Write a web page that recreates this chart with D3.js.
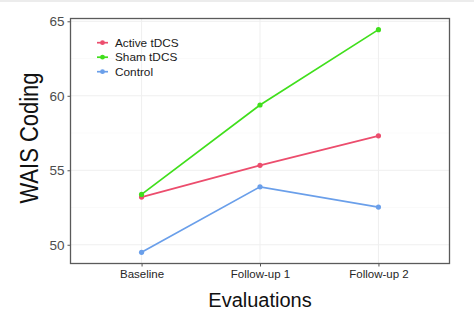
<!DOCTYPE html>
<html><head><meta charset="utf-8">
<script src="https://cdn.jsdelivr.net/npm/d3@7"></script>
<style>html,body{margin:0;padding:0;background:#fff;}svg{display:block;font-family:"Liberation Sans",Arial,sans-serif;}</style>
</head><body>
<svg id="chart" width="474" height="328"></svg>
<script>
const categories = ["Baseline", "Follow-up 1", "Follow-up 2"];
const seriesNames = ["Active tDCS", "Sham tDCS", "Control"];
const activeValues = [53.2, 55.33, 57.31];
const shamValues = [53.38, 59.38, 64.44];
const controlValues = [49.49, 53.89, 52.53];
const seriesColors = ["#ec4d6d", "#40df1c", "#6a9fea"];
const yTicks = [50, 55, 60, 65];
const yMinor = [52.5, 57.5, 62.5];

const seriesValues = [activeValues, shamValues, controlValues];
const svg = d3.select("#chart");
const W = 474, H = 328;
const m = {left: 70.5, right: 449.5, top: 18.5, bottom: 263.5};

svg.append("rect").attr("x",0).attr("y",0).attr("width",W).attr("height",2).attr("fill","#ececec");

const x = d3.scalePoint().domain(categories).range([m.left, m.right]).padding(0.6);
const all = seriesValues.flat();
const lo = d3.min(all), hi = d3.max(all), ex = (hi - lo) * 0.05;
const y = d3.scaleLinear().domain([lo - ex, hi + ex]).range([m.bottom, m.top]);

// grid
const g = svg.append("g");
g.selectAll(".minor").data(yMinor).enter().append("line")
  .attr("x1", m.left).attr("x2", m.right).attr("y1", d => y(d)).attr("y2", d => y(d))
  .attr("stroke", "#f6f6f6").attr("stroke-width", 0.6);
g.selectAll(".major").data(yTicks).enter().append("line")
  .attr("x1", m.left).attr("x2", m.right).attr("y1", d => y(d)).attr("y2", d => y(d))
  .attr("stroke", "#efefef").attr("stroke-width", 1);
g.selectAll(".vmaj").data(categories).enter().append("line")
  .attr("x1", d => x(d)).attr("x2", d => x(d)).attr("y1", m.top).attr("y2", m.bottom)
  .attr("stroke", "#efefef").attr("stroke-width", 1);

// axes
const yAxis = svg.append("g").attr("transform", `translate(${m.left},0)`)
  .call(d3.axisLeft(y).tickValues(yTicks).tickSize(3).tickPadding(3));
yAxis.select(".domain").remove();
yAxis.selectAll("line").attr("stroke", "#555");
yAxis.selectAll("text").attr("fill", "#4d4d4d").style("font-size", "13.5px").attr("font-family", "Liberation Sans, Arial, sans-serif");

const xAxis = svg.append("g").attr("transform", `translate(0,${m.bottom})`)
  .call(d3.axisBottom(x).tickSize(3).tickPadding(3));
xAxis.select(".domain").remove();
xAxis.selectAll("line").attr("stroke", "#555");
xAxis.selectAll("text").attr("fill", "#262626").style("font-size", "11.5px").attr("font-family", "Liberation Sans, Arial, sans-serif");

// panel border
svg.append("rect").attr("x", m.left).attr("y", m.top)
  .attr("width", m.right - m.left).attr("height", m.bottom - m.top)
  .attr("fill", "none").attr("stroke", "#5a5a5a").attr("stroke-width", 1.3);

// lines
const line = d3.line().x((d, i) => x(categories[i])).y(d => y(d));
seriesValues.forEach((vals, si) => {
  svg.append("path").datum(vals).attr("d", line).attr("fill", "none")
    .attr("stroke", seriesColors[si]).attr("stroke-width", 1.7);
});
seriesValues.forEach((vals, si) => {
  svg.selectAll(null).data(vals).enter().append("circle")
    .attr("cx", (d, i) => x(categories[i])).attr("cy", d => y(d)).attr("r", 2.6)
    .attr("fill", seriesColors[si]);
});

// legend
const lg = svg.append("g");
seriesNames.forEach((n, i) => {
  const yy = 42.7 + i * 14.5;
  lg.append("line").attr("x1", 97).attr("x2", 108).attr("y1", yy).attr("y2", yy)
    .attr("stroke", seriesColors[i]).attr("stroke-width", 1.7);
  lg.append("circle").attr("cx", 102.5).attr("cy", yy).attr("r", 2.4).attr("fill", seriesColors[i]);
  lg.append("text").attr("x", 115).attr("y", yy).attr("dy", "0.36em")
    .style("font-size", "11.8px").attr("fill", "#1a1a1a").text(n);
});

// titles
svg.append("text").attr("x", (m.left + m.right) / 2).attr("y", 300).attr("dy", "0.36em")
  .attr("text-anchor", "middle").style("font-size", "20px").attr("fill", "#111").text("Evaluations");
svg.append("text").attr("transform", `translate(29,${(m.top + m.bottom) / 2 - 3}) rotate(-90) scale(1,1.15)`)
  .attr("text-anchor", "middle").attr("dy", "0.36em")
  .style("font-size", "22px").attr("fill", "#111").text("WAIS Coding");
</script>
</body></html>
